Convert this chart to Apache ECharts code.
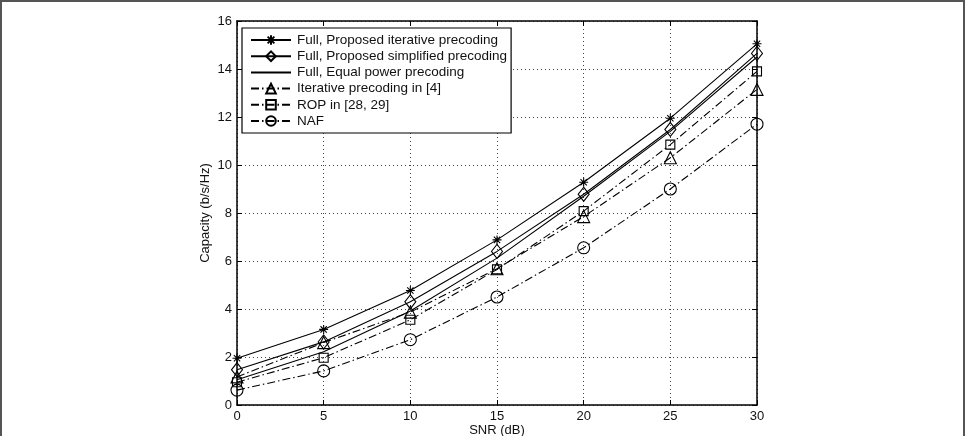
<!DOCTYPE html>
<html lang="en">
  <head>
    <meta charset="UTF-8" />
    <title>capacity vs snr</title>
    <style>
      html, body { margin: 0; padding: 0; background: #fff; }
      #main { width: 966px; height: 436px; }
    </style>
  </head>
  <body>
    <div id="main"></div>
    <script src="https://cdn.jsdelivr.net/npm/echarts@6/dist/echarts.min.js"></script>
    <script>
      const myChart = echarts.init(document.getElementById('main'))

      // SNR (dB)
      var snr = [0, 5, 10, 15, 20, 25, 30]
      var xTicks = [0, 5, 10, 15, 20, 25, 30]
      var yTicks = [0, 2, 4, 6, 8, 10, 12, 14, 16]
      // capacity (b/s/Hz)
      var fullIterative = [1.95, 3.15, 4.77, 6.88, 9.28, 11.95, 15.05]
      var fullSimplified = [1.47, 2.63, 4.3, 6.4, 8.78, 11.48, 14.65]
      var fullEqual = [1.05, 2.22, 3.92, 6.12, 8.7, 11.4, 14.5]
      var iterRef4 = [1.17, 2.6, 3.87, 5.68, 7.85, 10.3, 13.15]
      var rop = [0.95, 1.97, 3.55, 5.65, 8.08, 10.85, 13.9]
      var naf = [0.62, 1.42, 2.72, 4.5, 6.55, 9.0, 11.7]

      var names = [
        'Full, Proposed iterative precoding',
        'Full, Proposed simplified precoding',
        'Full, Equal power precoding',
        'Iterative precoding in [4]',
        'ROP in [28, 29]',
        'NAF'
      ]

      function pairs(ys) {
        return snr.map(function (x, i) { return [x, ys[i]] })
      }

      var font = 'Liberation Sans, Arial, Helvetica, sans-serif'
      var dashDot = [8, 3, 1.5, 3]
      // matlab style '*' marker, 8 arms
      var star = 'path://M0,-5L0,5M-5,0L5,0M-3.5,-3.5L3.5,3.5M-3.5,3.5L3.5,-3.5'

      function mk(name, ys, symbol, size, dash, noMarker) {
        return {
          name: name,
          type: 'line',
          data: pairs(ys),
          symbol: symbol,
          symbolSize: size,
          showSymbol: !noMarker,
          animation: false,
          lineStyle: { color: '#000', width: 1.1, type: dash || 'solid' },
          itemStyle: {
            color: 'rgba(0,0,0,0)',
            borderColor: noMarker ? 'rgba(0,0,0,0)' : '#000',
            borderWidth: noMarker ? 0 : 1.1
          },
          emphasis: { disabled: true },
          z: 3
        }
      }

      var axisLine = { show: true, onZero: false, lineStyle: { color: '#000', width: 1.5 } }
      var tick = { show: true, inside: true, length: 5, lineStyle: { color: '#000', width: 1 } }

      option = {
        backgroundColor: '#fff',
        animation: false,
        textStyle: { fontFamily: font },
        graphic: [
          {
            type: 'rect',
            shape: { x: 1, y: 1, width: 963, height: 445 },
            style: { fill: 'none', stroke: '#555', lineWidth: 2 },
            silent: true
          }
        ],
        grid: { left: 237, right: 209, top: 21, bottom: 31, containLabel: false, outerBoundsMode: 'none' },
        legend: {
          orient: 'vertical',
          left: 242,
          top: 28,
          padding: [5, 4, 5, 8],
          itemGap: 2.2,
          itemWidth: 40,
          itemHeight: 12,
          backgroundColor: '#fff',
          borderColor: '#000',
          borderWidth: 1.2,
          selectedMode: false,
          data: names,
          textStyle: { fontFamily: font, fontSize: 13.5, color: '#111', lineHeight: 12, padding: [0, 0, 0, 1] }
        },
        xAxis: [
          {
            type: 'value',
            min: 0,
            max: 30,
            interval: 5,
            name: 'SNR (dB)',
            nameLocation: 'middle',
            nameGap: 19,
            nameMoveOverlap: false,
            nameTextStyle: { fontFamily: font, fontSize: 13, color: '#111', verticalAlign: 'top' },
            axisLine: axisLine,
            axisTick: tick,
            axisLabel: {
              margin: 5,
              fontFamily: font,
              fontSize: 13,
              color: '#111',
              formatter: function (v) { return xTicks.indexOf(v) >= 0 ? String(v) : '' }
            },
            splitLine: { show: true, lineStyle: { color: '#444', width: 1, type: [1, 3] } }
          },
          {
            type: 'value',
            position: 'top',
            min: 0,
            max: 30,
            interval: 5,
            axisLine: axisLine,
            axisTick: tick,
            axisLabel: { show: false },
            splitLine: { show: false }
          }
        ],
        yAxis: [
          {
            type: 'value',
            min: 0,
            max: 16,
            interval: 2,
            name: 'Capacity (b/s/Hz)',
            nameLocation: 'middle',
            nameGap: 25,
            nameMoveOverlap: false,
            nameTextStyle: { fontFamily: font, fontSize: 13, color: '#111' },
            axisLine: axisLine,
            axisTick: tick,
            axisLabel: {
              margin: 5,
              fontFamily: font,
              fontSize: 13,
              color: '#111',
              formatter: function (v) { return yTicks.indexOf(v) >= 0 ? String(v) : '' }
            },
            splitLine: { show: true, lineStyle: { color: '#444', width: 1, type: [1, 3] } }
          },
          {
            type: 'value',
            position: 'right',
            min: 0,
            max: 16,
            interval: 2,
            axisLine: axisLine,
            axisTick: tick,
            axisLabel: { show: false },
            splitLine: { show: false }
          }
        ],
        series: [
          mk(names[0], fullIterative, star, 9),
          mk(names[1], fullSimplified, 'diamond', [11, 14]),
          mk(names[2], fullEqual, 'circle', 0, null, true),
          mk(names[3], iterRef4, 'triangle', 12, dashDot),
          mk(names[4], rop, 'rect', 9, dashDot),
          mk(names[5], naf, 'circle', 12, dashDot)
        ]
      }

      myChart.setOption(option)
    </script>
  </body>
</html>
